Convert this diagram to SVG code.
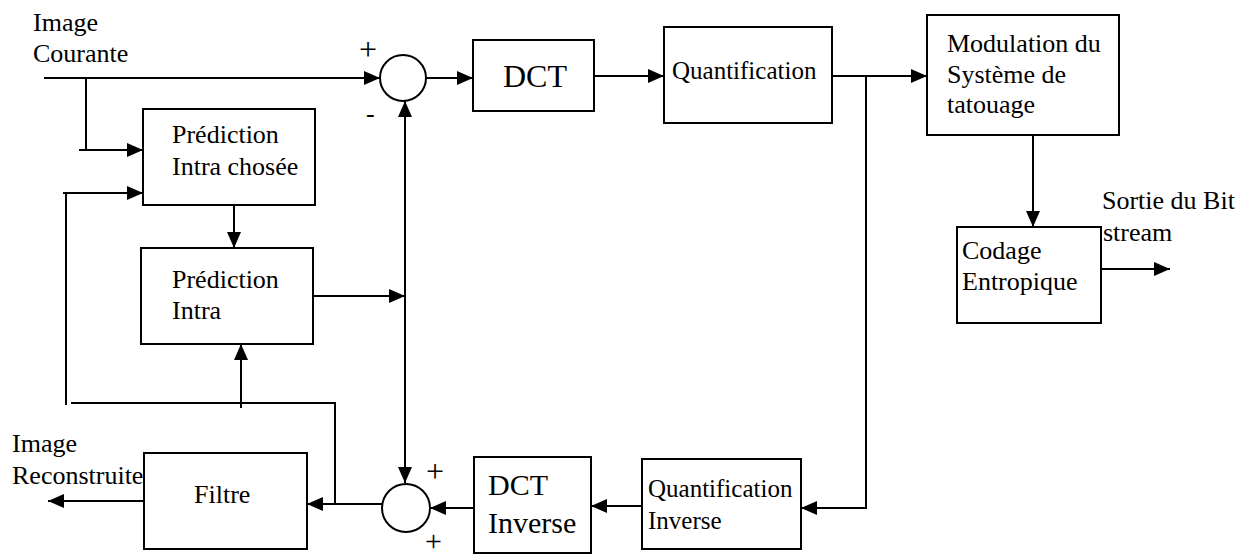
<svg xmlns="http://www.w3.org/2000/svg" width="1250" height="560" viewBox="0 0 1250 560" font-family="Liberation Serif, Times New Roman, serif" font-size="26">
<style>
.box{fill:#fff;stroke:#000;stroke-width:2}
.ln{fill:none;stroke:#000;stroke-width:2}
.ar{fill:none;stroke:#000;stroke-width:2;marker-end:url(#ah)}
</style>
<defs>
<marker id="ah" markerUnits="userSpaceOnUse" markerWidth="16" markerHeight="14" refX="16" refY="7" orient="auto" viewBox="0 0 16 14">
<path d="M0,0 L16,7 L0,14 z" fill="#000"/>
</marker>
</defs>
<rect width="1250" height="560" fill="#fff"/>
<g id="connectors">
<line class="ar" x1="44" y1="78" x2="380" y2="78"/>
<polyline class="ar" points="86,78 86,150 143,150"/>
<line class="ln" x1="79" y1="150" x2="86" y2="150"/>
<polyline class="ar" points="66,405 66,193 143,193"/>
<line class="ln" x1="63" y1="193" x2="66" y2="193"/>
<line class="ar" x1="427" y1="78" x2="473" y2="78"/>
<line class="ar" x1="594" y1="76" x2="664" y2="76"/>
<line class="ar" x1="832" y1="76" x2="927" y2="76"/>
<polyline class="ar" points="866,76 866,508 801,508"/>
<line class="ar" x1="1033" y1="135" x2="1033" y2="227"/>
<line class="ar" x1="1098" y1="269" x2="1170" y2="269"/>
<line class="ar" x1="234" y1="205" x2="234" y2="248"/>
<line class="ar" x1="313" y1="296" x2="405" y2="296"/>
<line class="ar" x1="405" y1="296" x2="405" y2="101"/>
<line class="ar" x1="405" y1="296" x2="405" y2="483"/>
<line class="ar" x1="241" y1="408" x2="241" y2="344"/>
<polyline class="ln" points="71,403 335,403 335,504"/>
<line class="ar" x1="382" y1="504" x2="307" y2="504"/>
<line class="ar" x1="144" y1="501" x2="48" y2="501"/>
<line class="ar" x1="642" y1="506" x2="591" y2="506"/>
<line class="ar" x1="474" y1="508" x2="430" y2="508"/>
</g>
<g id="label-image-courante">
<text x="33" y="31">Image</text>
<text x="33" y="62">Courante</text>
</g>
<g id="sum1">
<circle cx="403" cy="78" r="23" class="box"/>
<text font-size="32" x="359" y="60">+</text>
<text x="366" y="122">-</text>
</g>
<g id="dct">
<rect class="box" x="473" y="40" width="121" height="71"/>
<text font-size="32" x="503" y="87">DCT</text>
</g>
<g id="quantification">
<rect class="box" x="664" y="27" width="168" height="96"/>
<text font-size="25" x="672" y="79">Quantification</text>
</g>
<g id="modulation">
<rect class="box" x="927" y="15" width="192" height="120"/>
<text x="947" y="52">Modulation du</text>
<text x="947" y="83">Système de</text>
<text x="947" y="113">tatouage</text>
</g>
<g id="codage">
<rect class="box" x="957" y="227" width="144" height="96"/>
<text x="962" y="259">Codage</text>
<text x="962" y="290">Entropique</text>
</g>
<g id="label-sortie">
<text x="1102" y="209">Sortie du Bit</text>
<text x="1103" y="241">stream</text>
</g>
<g id="prediction-intra-chosee">
<rect class="box" x="143" y="109" width="172" height="96"/>
<text x="172" y="143">Prédiction</text>
<text x="172" y="175">Intra chosée</text>
</g>
<g id="prediction-intra">
<rect class="box" x="141" y="248" width="172" height="96"/>
<text x="172" y="288">Prédiction</text>
<text x="172" y="319">Intra</text>
</g>
<g id="filtre">
<rect class="box" x="144" y="453" width="163" height="96"/>
<text x="194" y="503">Filtre</text>
</g>
<g id="label-image-reconstruite">
<text x="12" y="452">Image</text>
<text x="12" y="484">Reconstruite</text>
</g>
<g id="sum2">
<circle cx="406" cy="508" r="24" class="box"/>
<text font-size="32" x="426" y="482">+</text>
<text font-size="30" x="425" y="551">+</text>
</g>
<g id="dct-inverse">
<rect class="box" x="474" y="457" width="117" height="96"/>
<text font-size="30" x="488" y="495">DCT</text>
<text font-size="30" x="488" y="533">Inverse</text>
</g>
<g id="quantification-inverse">
<rect class="box" x="642" y="459" width="159" height="90"/>
<text font-size="25" x="648" y="497">Quantification</text>
<text font-size="25" x="648" y="529">Inverse</text>
</g>
</svg>
